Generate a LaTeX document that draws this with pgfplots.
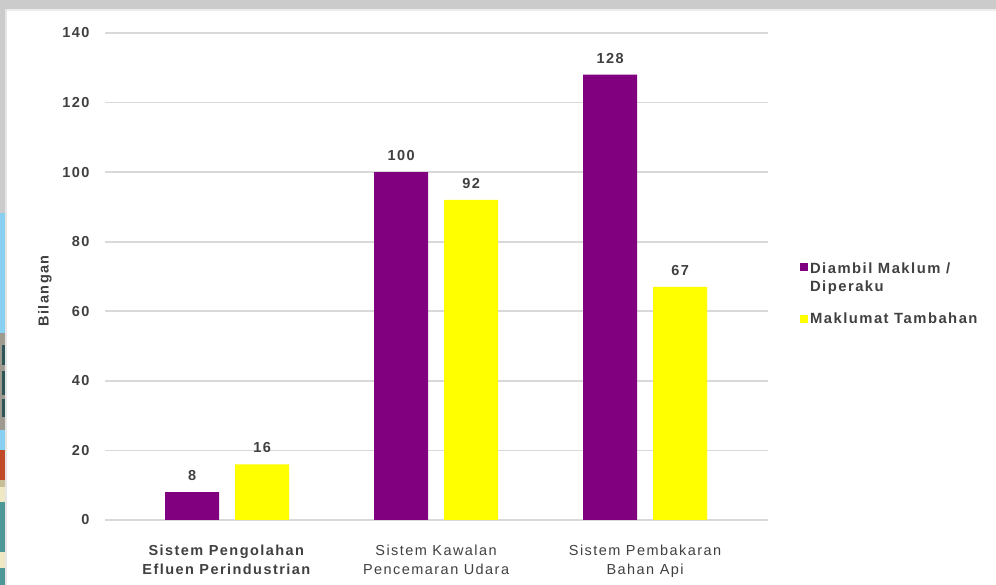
\documentclass[border=0pt]{standalone}
\usepackage{pgfplots}
\pgfplotsset{compat=1.18}
\usepackage{fontspec}
\setmainfont{Liberation Sans}[LetterSpace=10]
\definecolor{barpurple}{HTML}{800080}
\definecolor{baryellow}{HTML}{FFFF00}
\definecolor{gridgray}{HTML}{D9D9D9}
\definecolor{txtgray}{HTML}{404040}
\definecolor{framegray}{HTML}{CBCBCB}
\definecolor{sblue}{HTML}{88D0F0}
\definecolor{sgray}{HTML}{9E9A90}
\definecolor{sdark}{HTML}{2F5656}
\definecolor{sorange}{HTML}{C24A28}
\definecolor{sbeige}{HTML}{EFE8C4}
\definecolor{stan}{HTML}{C8BF98}
\definecolor{steal}{HTML}{4E9898}
\begin{document}
\begin{tikzpicture}
\path[use as bounding box] (0pt,0pt) rectangle (996pt,585pt);
% screenshot frame
\fill[framegray] (0pt,576pt) rectangle (996pt,585pt);
\fill[gray!15] (0pt,574pt) rectangle (996pt,576pt);
\fill[framegray] (0pt,372pt) rectangle (5pt,585pt);
\fill[sblue] (0pt,252pt) rectangle (5pt,372pt);
\fill[sgray] (0pt,155pt) rectangle (5pt,252pt);
\fill[sdark] (2pt,220pt) rectangle (5pt,240pt);
\fill[sdark] (2pt,190pt) rectangle (5pt,214pt);
\fill[sdark] (2pt,168pt) rectangle (5pt,186pt);
\fill[sblue] (0pt,135pt) rectangle (5pt,155pt);
\fill[sorange] (0pt,105pt) rectangle (5pt,135pt);
\fill[sbeige] (0pt,83pt) rectangle (5pt,105pt);
\fill[stan] (0pt,98pt) rectangle (5pt,105pt);
\fill[steal] (0pt,33pt) rectangle (5pt,83pt);
\fill[sbeige] (0pt,17pt) rectangle (5pt,33pt);
\fill[steal] (0pt,0pt) rectangle (5pt,17pt);
\fill[gray!20] (5pt,0pt) rectangle (7pt,576pt);
\begin{axis}[
  at={(105pt,65pt)}, anchor=south west,
  scale only axis, width=663pt, height=487pt,
  /pgf/number format/assume math mode=true,
  ymin=0, ymax=140, ytick={0,20,...,140},
  xmin=-0.584, xmax=2.588,
  xtick={0,1,2},
  xticklabels={{\textbf{Sistem  Pengolahan}\\\textbf{Efluen Perindustrian}},{Sistem Kawalan\\Pencemaran Udara},{Sistem Pembakaran\\Bahan Api}},
  xticklabel style={align=center, font=\fontsize{14.5}{19}\selectfont, text=txtgray, yshift=-17pt},
  yticklabel style={font=\fontsize{14.5}{17}\selectfont\bfseries, text=txtgray, xshift=-12pt},
  ymajorgrids, grid style={gridgray, line width=1.6pt},
  axis line style={draw=none}, tick style={draw=none},
  ybar=16pt, bar width=54pt,
  ylabel={\textbf{Bilangan}},
  ylabel style={at={(axis description cs:-0.0905,0.472)}, anchor=center, font=\fontsize{14.5}{17}\selectfont, text=txtgray},
  nodes near coords,
  every node near coord/.append style={font=\fontsize{14.5}{17}\selectfont\bfseries, text=txtgray, yshift=8pt},
  legend style={at={(axis description cs:1.048,0.533)}, anchor=north west, draw=none, fill=none,
    font=\fontsize{14.8}{18}\selectfont\bfseries, text=txtgray, cells={align=left, anchor=west},
    row sep=16pt, inner sep=0pt},
  legend image code/.code={\fill[#1] (0pt,-4pt) rectangle (8pt,4pt);},
]
\addplot[fill=barpurple, draw=none,
  legend image code/.code={\fill[barpurple] (0pt,7pt) rectangle (8pt,15pt);}] coordinates {(0,8) (1,100) (2,128)};
\addplot[fill=baryellow, draw=none] coordinates {(0,16) (1,92) (2,67)};
\legend{Diambil Maklum /\\Diperaku, Maklumat Tambahan}
\end{axis}
\end{tikzpicture}
\end{document}
